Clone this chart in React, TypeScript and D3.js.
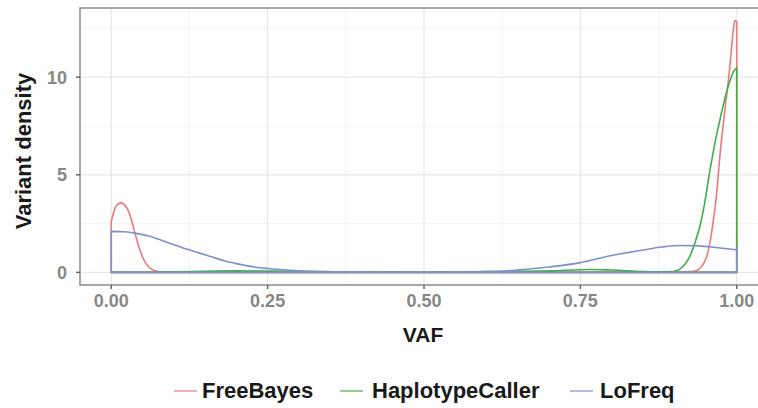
import React from "react";
import * as d3 from "d3";

const seriesNames = ["FreeBayes", "HaplotypeCaller", "LoFreq"];
const seriesColors = ["#EA7B7C", "#3FAE4A", "#7F90CC"];

const freeBayesVAF = [0, 0.004, 0.008, 0.015, 0.025, 0.033, 0.038, 0.044, 0.052, 0.06, 0.07, 0.08, 0.1, 0.2, 0.3, 0.4, 0.5, 0.6, 0.7, 0.8, 0.9, 0.925, 0.936, 0.944, 0.952, 0.957, 0.962, 0.968, 0.973, 0.978, 0.983, 0.989, 0.994, 0.997, 1.0];
const freeBayesDensity = [2.6, 3.1, 3.4, 3.56, 3.3, 2.61, 2.0, 1.33, 0.65, 0.28, 0.09, 0.03, 0.01, 0.02, 0.03, 0.02, 0.01, 0.01, 0.01, 0.02, 0.02, 0.04, 0.1, 0.31, 0.82, 1.5, 2.53, 4.06, 5.94, 7.47, 8.84, 10.55, 12.26, 12.9, 12.85];

const haplotypeVAF = [0, 0.1, 0.2, 0.3, 0.4, 0.5, 0.6, 0.7, 0.765, 0.8, 0.85, 0.88, 0.898, 0.909, 0.917, 0.925, 0.933, 0.941, 0.949, 0.957, 0.965, 0.973, 0.981, 0.989, 0.995, 1.0];
const haplotypeDensity = [0.02, 0.03, 0.08, 0.05, 0.02, 0.02, 0.04, 0.08, 0.15, 0.12, 0.05, 0.03, 0.05, 0.17, 0.4, 0.82, 1.5, 2.35, 3.6, 5.2, 6.6, 7.8, 8.9, 9.8, 10.3, 10.47];

const loFreqVAF = [0, 0.02, 0.04, 0.06, 0.08, 0.1, 0.12, 0.14, 0.16, 0.18, 0.2, 0.22, 0.25, 0.28, 0.32, 0.38, 0.45, 0.55, 0.62, 0.66, 0.7, 0.75, 0.8, 0.85, 0.88, 0.91, 0.94, 0.97, 1.0];
const loFreqDensity = [2.1, 2.08, 2.0, 1.86, 1.65, 1.42, 1.2, 1.0, 0.8, 0.6, 0.45, 0.32, 0.2, 0.12, 0.06, 0.03, 0.02, 0.02, 0.06, 0.15, 0.28, 0.5, 0.87, 1.15, 1.3, 1.38, 1.36, 1.26, 1.16];

const xTicks = [0, 0.25, 0.5, 0.75, 1.0];
const xTickLabels = ["0.00", "0.25", "0.50", "0.75", "1.00"];
const xMinor = [0.125, 0.375, 0.625, 0.875];
const yTicks = [0, 5, 10];
const yMinor = [2.5, 7.5, 12.5];

const W = 758;
const H = 408;
const panel = { left: 80, top: 8, right: 768, bottom: 285 };

export default function App() {
  const x = d3.scaleLinear().domain([-0.05, 1.05]).range([panel.left, panel.right]);
  const y = d3.scaleLinear().domain([-0.645, 13.545]).range([panel.bottom, panel.top]);

  const allSeries = [
    { name: seriesNames[0], xs: freeBayesVAF, ys: freeBayesDensity, color: seriesColors[0] },
    { name: seriesNames[1], xs: haplotypeVAF, ys: haplotypeDensity, color: seriesColors[1] },
    { name: seriesNames[2], xs: loFreqVAF, ys: loFreqDensity, color: seriesColors[2] },
  ];

  const line = d3
    .line<[number, number]>()
    .x((d) => x(d[0]))
    .y((d) => y(Math.max(0, d[1])))
    .curve(d3.curveMonotoneX);

  const pathFor = (xs: number[], ys: number[]) => {
    const pts: [number, number][] = xs.map((v, i) => [v, ys[i]]);
    const body = line(pts) || "";
    return `M${x(xs[0])},${y(0)}L` + body.slice(1) + `L${x(xs[xs.length - 1])},${y(0)}Z`;
  };

  const legendItems = [
    { key: 174, text: 202 },
    { key: 340, text: 372 },
    { key: 570, text: 600 },
  ];

  const font = "'Liberation Sans', Arial, Helvetica, sans-serif";

  return (
    <svg width={W} height={H} style={{ position: "absolute", left: 0, top: 0, background: "#fff" }} fontFamily={font}>
      <defs>
        <clipPath id="clipP">
          <rect x={panel.left} y={panel.top} width={panel.right - panel.left} height={panel.bottom - panel.top} />
        </clipPath>
      </defs>
      <rect x={0} y={0} width={W} height={H} fill="#fff" />
      {/* grid */}
      {xMinor.map((v) => (
        <line key={"xm" + v} x1={x(v)} x2={x(v)} y1={panel.top} y2={panel.bottom} stroke="#f3f3f3" strokeWidth={1} />
      ))}
      {yMinor.map((v) => (
        <line key={"ym" + v} x1={panel.left} x2={panel.right} y1={y(v)} y2={y(v)} stroke="#f3f3f3" strokeWidth={1} />
      ))}
      {xTicks.map((v) => (
        <line key={"xg" + v} x1={x(v)} x2={x(v)} y1={panel.top} y2={panel.bottom} stroke="#e8e8e8" strokeWidth={1.3} />
      ))}
      {yTicks.map((v) => (
        <line key={"yg" + v} x1={panel.left} x2={panel.right} y1={y(v)} y2={y(v)} stroke="#e8e8e8" strokeWidth={1.3} />
      ))}
      {/* density curves */}
      <g clipPath="url(#clipP)">
        {allSeries.map((s) => (
          <path key={s.name} d={pathFor(s.xs, s.ys)} fill="none" stroke={s.color} strokeWidth={1.6} strokeLinejoin="round" />
        ))}
      </g>
      {/* panel border */}
      <rect x={panel.left} y={panel.top} width={panel.right - panel.left} height={panel.bottom - panel.top} fill="none" stroke="#8a8a8a" strokeWidth={1.5} />
      {/* x axis ticks */}
      {xTicks.map((v, i) => (
        <g key={"xt" + v}>
          <line x1={x(v)} x2={x(v)} y1={panel.bottom} y2={panel.bottom + 4} stroke="#666" strokeWidth={1.5} />
          <text x={x(v)} y={307} textAnchor="middle" fontSize={18} fontWeight="bold" fill="#878787">
            {xTickLabels[i]}
          </text>
        </g>
      ))}
      {/* y axis ticks */}
      {yTicks.map((v) => (
        <g key={"yt" + v}>
          <line x1={panel.left - 4} x2={panel.left} y1={y(v)} y2={y(v)} stroke="#666" strokeWidth={1.5} />
          <text x={67} y={y(v) + 6.5} textAnchor="end" fontSize={18} fontWeight="bold" fill="#878787">
            {v}
          </text>
        </g>
      ))}
      {/* axis titles */}
      <text x={423} y={342} textAnchor="middle" fontSize={21} fontWeight="bold" fill="#1a1a1a">
        VAF
      </text>
      <text transform="translate(31,151) rotate(-90)" textAnchor="middle" fontSize={22} fontWeight="bold" fill="#1a1a1a">
        Variant density
      </text>
      {/* legend */}
      {allSeries.map((s, i) => (
        <g key={"lg" + s.name}>
          <line x1={legendItems[i].key} x2={legendItems[i].key + 23} y1={391} y2={391} stroke={s.color} strokeWidth={1.6} opacity={0.75} />
          <text x={legendItems[i].text} y={398} fontSize={22} fontWeight="bold" fill="#1a1a1a">
            {s.name}
          </text>
        </g>
      ))}
    </svg>
  );
}
